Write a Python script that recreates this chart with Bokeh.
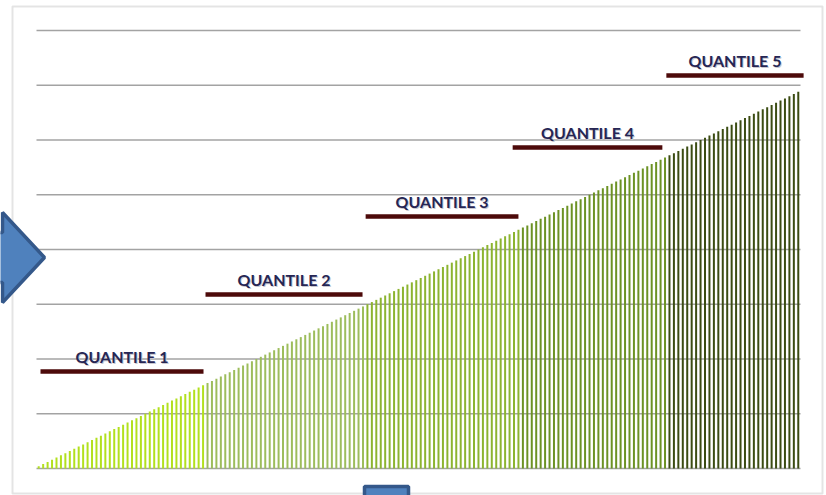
from bokeh.plotting import figure
from bokeh.models import Range1d, BoxAnnotation, PolyAnnotation
from bokeh.core.properties import value
from bokeh.embed import file_html
from bokeh.resources import INLINE

# ---- data ----
values = [
    1, 2, 3, 4, 5, 6, 7, 8, 9, 10, 11, 12, 13, 14, 15, 16, 17, 18, 19, 20,
    21, 22, 23, 24, 25, 26, 27, 28, 29, 30, 31, 32, 33, 34, 35, 36, 37, 38, 39, 40,
    41, 42, 43, 44, 45, 46, 47, 48, 49, 50, 51, 52, 53, 54, 55, 56, 57, 58, 59, 60,
    61, 62, 63, 64, 65, 66, 67, 68, 69, 70, 71, 72, 73, 74, 75, 76, 77, 78, 79, 80,
    81, 82, 83, 84, 85, 86, 87, 88, 89, 90, 91, 92, 93, 94, 95, 96, 97, 98, 99, 100,
    101, 102, 103, 104, 105, 106, 107, 108, 109, 110, 111, 112, 113, 114, 115, 116, 117, 118, 119, 120,
    121, 122, 123, 124, 125, 126, 127, 128, 129, 130, 131, 132, 133, 134, 135, 136, 137, 138, 139, 140,
    141, 142, 143, 144, 145, 146, 147, 148, 149, 150, 151, 152, 153, 154, 155, 156, 157, 158, 159, 160,
    161, 162, 163, 164, 165, 166, 167, 168, 169, 170, 171, 172,
]
y_gridlines = [0, 25, 50, 75, 100, 125, 150, 175, 200]
quantile_sizes = [38, 36, 35, 33, 30]
quantile_colors = ["#b2e01e", "#9dbd5c", "#8cb430", "#6c9224", "#3b4c12"]
quantile_labels = ["QUANTILE 1", "QUANTILE 2", "QUANTILE 3", "QUANTILE 4", "QUANTILE 5"]
quantile_start = [0.9, 38.05, 74.1, 107.2, 141.8]
quantile_end = [37.6, 73.4, 108.5, 140.9, 172.7]
quantile_level = [44.3, 79.5, 115.1, 146.6, 179.5]

n = len(values)
xs = [i + 0.5 for i in range(n)]
colors = []
for size, c in zip(quantile_sizes, quantile_colors):
    colors += [c] * size

W, H = 826, 495
# plot area inside the chart: x 36..800 px, y 30..468 px
px_x = (800 - 36) / n
px_y = (468 - 30) / 200
p = figure(width=W, height=H, output_backend="svg", toolbar_location=None,
           x_range=Range1d(-36 / px_x, n + (W - 800) / px_x),
           y_range=Range1d(-(H - 468) / px_y, 200 + 30 / px_y),
           min_border=0, min_border_left=0, min_border_right=0,
           min_border_top=0, min_border_bottom=0)
p.outline_line_color = None
p.background_fill_color = "white"
p.border_fill_color = "white"
p.axis.visible = False
p.grid.visible = False

# horizontal gridlines across the plot area
p.segment(x0=[0] * len(y_gridlines), y0=y_gridlines, x1=[n] * len(y_gridlines), y1=y_gridlines,
          line_color="#a3a3a3", line_width=1.6)

p.vbar(x=xs, top=values, bottom=0, width=0.45, fill_color=colors, line_color=None)

mids = [(a + b) / 2 for a, b in zip(quantile_start, quantile_end)]
p.segment(x0=quantile_start, y0=quantile_level, x1=quantile_end, y1=quantile_level,
          line_color="#4d0a0a", line_width=4.5, line_cap="butt")
p.text(x=mids, y=quantile_level, text=quantile_labels, text_align="center",
       text_baseline="alphabetic", y_offset=-14, x_offset=1, text_font=value("Lato"),
       text_font_style="bold", text_font_size="16px", text_color="#c8c8d0")
p.text(x=mids, y=quantile_level, text=quantile_labels, text_align="center",
       text_baseline="alphabetic", y_offset=-15, text_font=value("Lato"),
       text_font_style="bold", text_font_size="16px", text_color="#262654")

# chart area border
p.add_layout(BoxAnnotation(left=12, right=822, top=6, bottom=493,
                           left_units="canvas", right_units="canvas",
                           top_units="canvas", bottom_units="canvas",
                           fill_color=None, line_color="#a6a6a6", line_width=2,
                           level="overlay"))
# decorative arrows
p.add_layout(PolyAnnotation(xs=[-40, 2, 2, 44, 2, 2, -40],
                            ys=[232, 232, 212, 257, 302, 282, 282],
                            xs_units="canvas", ys_units="canvas",
                            fill_color="#4f81bd", fill_alpha=1.0,
                            line_color="#34588a", line_width=3.5, line_alpha=1.0,
                            level="overlay"))
p.add_layout(BoxAnnotation(left=364, right=408, top=486, bottom=520,
                           left_units="canvas", right_units="canvas",
                           top_units="canvas", bottom_units="canvas",
                           fill_color="#4f81bd", fill_alpha=1.0,
                           line_color="#34588a", line_width=3.5, line_alpha=1.0,
                           level="overlay"))

open("out.html", "w").write(file_html(p, INLINE))
